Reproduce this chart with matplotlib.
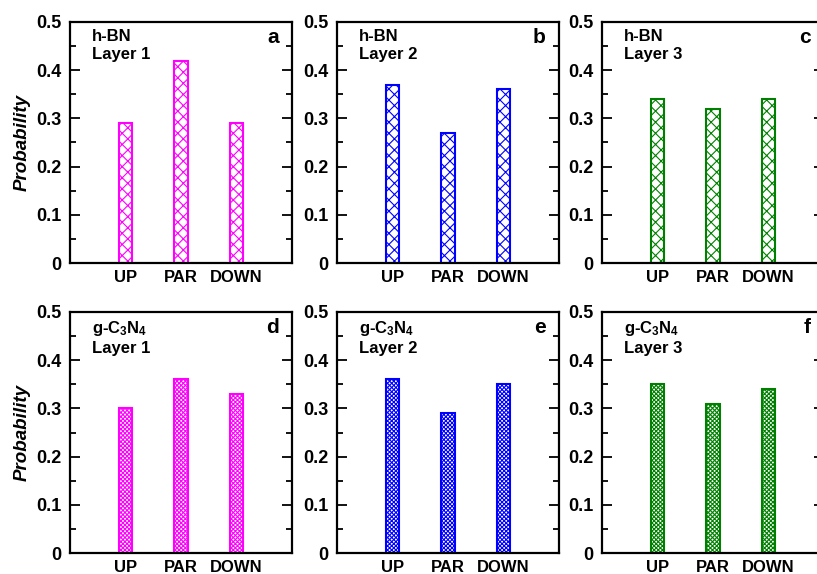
import matplotlib.pyplot as plt
from matplotlib.ticker import MultipleLocator

plt.rcParams['font.family'] = ['Liberation Sans', 'DejaVu Sans']
plt.rcParams['font.weight'] = 'bold'
plt.rcParams['mathtext.fontset'] = 'custom'
plt.rcParams['mathtext.rm'] = 'Liberation Sans:bold'
plt.rcParams['mathtext.bf'] = 'Liberation Sans:bold'
plt.rcParams['mathtext.default'] = 'bf'
plt.rcParams['hatch.linewidth'] = 0.8

# dades
categories = ['UP', 'PAR', 'DOWN']
hbn_layer1 = [0.29, 0.42, 0.29]
hbn_layer2 = [0.37, 0.27, 0.36]
hbn_layer3 = [0.34, 0.32, 0.34]
gcn_layer1 = [0.30, 0.36, 0.33]
gcn_layer2 = [0.36, 0.29, 0.35]
gcn_layer3 = [0.35, 0.31, 0.34]

panels = [
    (hbn_layer1, 'h-BN\nLayer 1', 'a', '#ff00ff', 0),
    (hbn_layer2, 'h-BN\nLayer 2', 'b', '#0000ff', 0),
    (hbn_layer3, 'h-BN\nLayer 3', 'c', '#008000', 0),
    (gcn_layer1, 'g-C$_3$N$_4$\nLayer 1', 'd', '#ff00ff', 1),
    (gcn_layer2, 'g-C$_3$N$_4$\nLayer 2', 'e', '#0000ff', 1),
    (gcn_layer3, 'g-C$_3$N$_4$\nLayer 3', 'f', '#008000', 1),
]

fig = plt.figure(figsize=(8.17, 5.74), dpi=100)
lefts = [70 / 817, 337 / 817, 602 / 817]
bottoms = [1 - 263 / 574, 1 - 553 / 574]
w = 222 / 817
h = 241 / 574

x = [1, 2, 3]
for i, (vals, label, letter, col, row) in enumerate(panels):
    ax = fig.add_axes([lefts[i % 3], bottoms[row], w, h])
    if row == 0:
        ax.bar(x, vals, width=0.24, facecolor='white', edgecolor=col,
               hatch='xxx', linewidth=1.5)
    else:
        ax.bar(x, vals, width=0.24, facecolor='white', edgecolor=col,
               hatch='xxxxxxxx', linewidth=1.5)
    ax.set_xlim(0, 4)
    ax.set_ylim(0, 0.5)
    ax.set_xticks(x)
    ax.set_xticklabels(categories, fontsize=12, fontweight='bold')
    ax.tick_params(axis='x', length=0, pad=5)
    ax.yaxis.set_minor_locator(MultipleLocator(0.05))
    ax.set_yticks([0, 0.1, 0.2, 0.3, 0.4, 0.5])
    ax.set_yticklabels(['0', '0.1', '0.2', '0.3', '0.4', '0.5'], fontsize=13, fontweight='bold')
    ax.tick_params(axis='y', which='major', direction='in', length=7, width=1.3,
                   left=True, right=True, pad=6)
    ax.tick_params(axis='y', which='minor', direction='in', length=4, width=1.3,
                   left=True, right=True)
    for s in ax.spines.values():
        s.set_linewidth(1.6)
    ax.text(0.1, 0.97, label, transform=ax.transAxes, fontsize=12,
            fontweight='bold', va='top', ha='left', linespacing=1.2)
    ax.text(0.94, 0.975, letter, transform=ax.transAxes, fontsize=15,
            fontweight='bold', va='top', ha='right')
    if i % 3 == 0:
        ax.set_ylabel('Probability', fontsize=13.5, fontweight='bold', style='italic', labelpad=4)

plt.savefig('out.png', dpi=100)
